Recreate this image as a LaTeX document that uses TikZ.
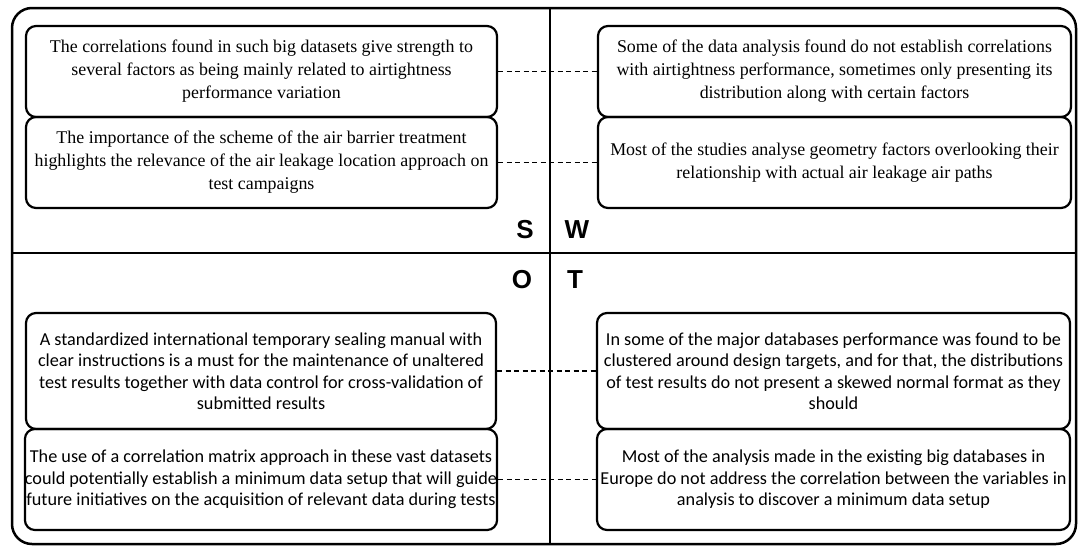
\documentclass[tikz,border=0pt]{standalone}
\usepackage{fontspec}
\setmainfont{Liberation Serif}
\newfontfamily\calfont{Carlito}
\newfontfamily\letfont{Liberation Sans}

\tikzset{
  swotbox/.style={draw, line width=2.2pt, rounded corners=10pt, align=center,
    inner sep=0pt, minimum width=471pt},
  serifbox/.style={swotbox, font=\fontsize{17.9}{23}\selectfont},
  sansbox/.style={swotbox, font=\calfont\fontsize{18.2}{21.5}\selectfont},
  swotletter/.style={font=\letfont\bfseries\fontsize{26}{26}\selectfont, inner sep=0pt},
  linkline/.style={line width=1.2pt, dash pattern=on 5pt off 3.5pt}
}

\begin{document}
\begin{tikzpicture}[x=1pt, y=-1pt]
        \useasboundingbox (0,0) rectangle (1078,547);

        % Frame and quadrants
        \draw[line width=2.5pt, rounded corners=20pt] (12,8) rectangle (1076,544);
        \draw[line width=2.5pt] (550,8) -- (550,544);
        \draw[line width=2.5pt] (12,253) -- (1076,253);

        % Quadrant letters
        \node (lS) at (525,230) [swotletter] {S};
        \node (lW) at (577,230) [swotletter] {W};
        \node (lO) at (522,280) [swotletter] {O};
        \node (lT) at (575,280) [swotletter] {T};

        % Strengths
        \node (s1) at (261.5,71.5) [serifbox, minimum height=91pt] {The correlations found in such big datasets give strength to\\several factors as being mainly related to airtightness\\performance variation};
        \node (s2) at (261.5,162.5) [serifbox, minimum height=91pt] {The importance of the scheme of the air barrier treatment\\highlights the relevance of the air leakage location approach on\\test campaigns};

        % Weaknesses
        \node (w1) at (834.5,71.5) [serifbox, minimum width=473pt, minimum height=91pt] {Some of the data analysis found do not establish correlations\\with airtightness performance, sometimes only presenting its\\distribution along with certain factors};
        \node (w2) at (834.5,162.5) [serifbox, minimum width=473pt, minimum height=91pt] {Most of the studies analyse geometry factors overlooking their\\relationship with actual air leakage air paths};

        % Opportunities
        \node (o1) at (261,371) [sansbox, minimum width=470pt, minimum height=116pt] {A standardized international temporary sealing manual with\\clear instructions is a must for the maintenance of unaltered\\test results together with data control for cross-validation of\\submitted results};
        \node (o2) at (261,479.5) [sansbox, minimum width=470pt, minimum height=101pt] {The use of a correlation matrix approach in these vast datasets\\could potentially establish a minimum data setup that will guide\\future initiatives on the acquisition of relevant data during tests};

        % Threats
        \node (t1) at (833.5,371) [sansbox, minimum width=473pt, minimum height=116pt] {In some of the major databases performance was found to be\\clustered around design targets, and for that, the distributions\\of test results do not present a skewed normal format as they\\should};
        \node (t2) at (833.5,479.5) [sansbox, minimum width=473pt, minimum height=101pt] {Most of the analysis made in the existing big databases in\\Europe do not address the correlation between the variables in\\analysis to discover a minimum data setup};

        % Links
        \draw[linkline] (s1.east) -- (w1.west);
        \draw[linkline] (s2.east) -- (w2.west);
        \draw[linkline] (o1.east) -- (t1.west);
        \draw[linkline] (o2.east) -- (t2.west);
\end{tikzpicture}
\end{document}
